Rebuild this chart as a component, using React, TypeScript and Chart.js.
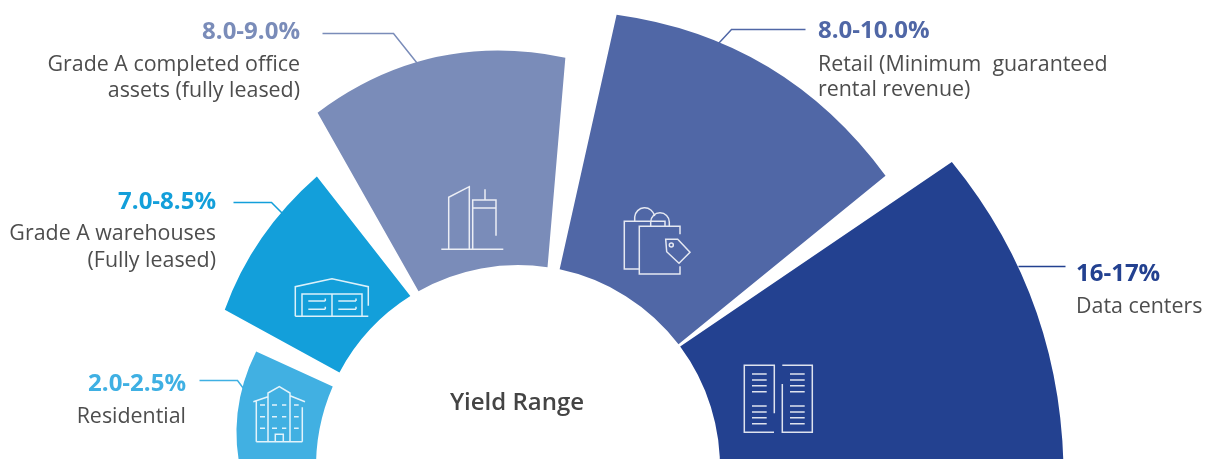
import React, { useEffect, useRef } from "react";
import { Chart, ArcElement, PolarAreaController, RadialLinearScale } from "chart.js";

// Property yield ranges, one wedge per asset class.
const categories = ["Residential", "Grade A warehouses", "Grade A completed office assets", "Retail", "Data centers"];
const yieldLow = [2.0, 7.0, 8.0, 8.0, 16];
const yieldHigh = [2.5, 8.5, 9.0, 10.0, 17];
const yieldLabels = ["2.0-2.5%", "7.0-8.5%", "8.0-9.0%", "8.0-10.0%", "16-17%"];
const yieldMidpoints = yieldLow.map((low, i) => (low + yieldHigh[i]) / 2);
const wedgeColors = ["#41b0e2", "#139fda", "#7a8cb9", "#5067a6", "#234190"];
const labelColors = ["#3fb0e3", "#139fda", "#7a8cb9", "#5067a6", "#234190"];

// Broken radial axis: yield stops and the share of the drawing area they reach.
const yieldStops = [2.25, 7.75, 8.5, 9, 16.5];
const ringStops = [0.408, 0.491, 0.597, 0.674, 0.773];
const holeShare = 0.2886;

// Sweep of each wedge in degrees, and where the sweep starts.
const firstAngle = -92;
const wedgeSweeps = [27.8, 33.2, 41, 43, 39];
// Corner insets in degrees: inner start, outer start, inner end, outer end.
const cornerInsets = [
  [0, 0, 2.3, 2.0],
  [2.1, 2.4, 1.2, 3.7],
  [1.5, 1.5, 1.6, 3.4],
  [1.9, 2.3, 0.4, 1.4],
  [0.4, 1.9, 0, 0],
];
// Outer corner radius relative to the radius at mid sweep: start, end.
const shoulderRatios = [
  [0.967, 1.002],
  [0.968, 1.028],
  [0.974, 0.986],
  [0.981, 0.994],
  [0.98, 1.009],
];

const rad = (deg: number) => (deg * Math.PI) / 180;

class YieldRadialScale extends RadialLinearScale {
  static id = "yieldRadial";
  getDistanceFromCenterForValue(value: number) {
    const last = yieldStops.length - 1;
    let share = ringStops[last];
    for (let i = 0; i < last; i++) {
      if (value <= yieldStops[i + 1]) {
        const t = (value - yieldStops[i]) / (yieldStops[i + 1] - yieldStops[i]);
        share = ringStops[i] + t * (ringStops[i + 1] - ringStops[i]);
        break;
      }
    }
    return share * (this as any).drawingArea;
  }
}

// Ring wedge with tapered gaps and a slightly off-centre outer edge.
class WedgeArc extends ArcElement {
  static id = "wedgeArc";
  draw(ctx: CanvasRenderingContext2D) {
    const self = this as any;
    const i = self.$context.index;
    const { x, y, startAngle, endAngle, outerRadius } = self;
    const hole = self.$context.chart.scales.r.drawingArea * holeShare;
    const [is, os, ie, oe] = cornerInsets[i];
    const [rs, re] = shoulderRatios[i];
    const a0 = startAngle + rad(is);
    const a1 = startAngle + rad(os);
    const a2 = endAngle - rad(oe);
    const a3 = endAngle - rad(ie);
    const am = (a1 + a2) / 2;
    const p1 = [x + outerRadius * rs * Math.cos(a1), y + outerRadius * rs * Math.sin(a1)];
    const p2 = [x + outerRadius * re * Math.cos(a2), y + outerRadius * re * Math.sin(a2)];
    const pm = [x + outerRadius * Math.cos(am), y + outerRadius * Math.sin(am)];
    ctx.save();
    ctx.fillStyle = self.options.backgroundColor;
    ctx.beginPath();
    ctx.moveTo(x + hole * Math.cos(a0), y + hole * Math.sin(a0));
    ctx.lineTo(p1[0], p1[1]);
    ctx.quadraticCurveTo(2 * pm[0] - (p1[0] + p2[0]) / 2, 2 * pm[1] - (p1[1] + p2[1]) / 2, p2[0], p2[1]);
    ctx.lineTo(x + hole * Math.cos(a3), y + hole * Math.sin(a3));
    ctx.arc(x, y, hole, a3, a0, true);
    ctx.closePath();
    ctx.fill();
    ctx.restore();
  }
}

Chart.register(PolarAreaController, RadialLinearScale, ArcElement, YieldRadialScale, WedgeArc);
(Chart.defaults as any).datasets.polarArea.dataElementType = "wedgeArc";

// The canvas is larger than the visible band so the full radial scale fits.
const canvasSize = 1400;
const canvasLeft = -182;
const canvasTop = -233;

type Caption = { lines: string[]; x: number; align: CanvasTextAlign; head: number; first: number; gap: number };
const captions: Caption[] = [
  { lines: ["Residential"], x: 186, align: "right", head: 391, first: 423, gap: 0 },
  { lines: ["Grade A warehouses", "(Fully leased)"], x: 216, align: "right", head: 209, first: 240, gap: 27 },
  { lines: ["Grade A completed office", "assets (fully leased)"], x: 300, align: "right", head: 39, first: 71, gap: 26 },
  { lines: ["Retail (Minimum  guaranteed", "rental revenue)"], x: 818, align: "left", head: 38, first: 71, gap: 25 },
  { lines: ["Data centers"], x: 1076, align: "left", head: 281, first: 313, gap: 0 },
];

const leaders: number[][][] = [
  [[199, 380], [237, 380], [243, 388]],
  [[233, 202], [271, 202], [282, 213]],
  [[322, 33], [393, 33], [416.5, 62.5]],
  [[805, 29], [731, 29], [718, 43]],
  [[1065, 266], [1018, 266]],
];

// Line-art pictograms, one per asset class.
const icons = [
  "M256.3 441.7V401 M253.3 401.7L268 396.7 M268 441.7V393L279.3 386.7L290 393V441.7 M290 395.7L305 401.7 M302.3 407.3V441.7 M256.3 441.7H302.3 M275.3 441.7V434.3H283.3V441.7 M260 405H265M272 405H277M282 405H286.3M294 405H298.7 M260 416.7H265M272 416.7H277M282 416.7H286.3M294 416.7H298.7 M260 428.3H265M272 428.3H277M282 428.3H286.3M294 428.3H298.7",
  "M295.3 316.3V286.7L332 278.7L368.3 286.7V305.7 M295.3 316.3H368.3 M302 316.3V294H362V316.3 M332 294V316.3 M308.3 301H325.3M308.3 309.3H325.3M338.3 301H356M338.3 309.3H356 M325.3 298.5V301M325.3 306.8V309.3M356 298.5V301M356 306.8V309.3",
  "M441.3 249.3H503.3 M448.7 249.3V197.3L469.3 186.7V249.3 M472.7 249.3V200H496V235.7 M472.7 208H496 M485 189.3V200",
  "M639.3 269H624.3V221.3H665V226.3 M680 234.3V226.3H639.3V274H680V266.3 M634.7 221.3V217A10 10 0 0 1 654.5 216V213.5 M650.7 226.3V222A9.3 9.3 0 0 1 669.3 222V226.3 M665.7 239.3H677.7L690 252.3L679 263.3L666.7 251.7Z M673.3 245A2 2 0 1 1 669.3 245A2 2 0 1 1 673.3 245",
  "M774.3 413.3V365.3H744.3V432.3H774 M782.3 365.3H812.3V432.3H782.3V384 M752 374H766.7M752 380H766.7M752 385.7H766.7M752 391.7H766.7M752 406H766.7M752 412H766.7M752 417.7H766.7M752 423.7H766.7 M790 374H804.7M790 380H804.7M790 385.7H804.7M790 391.7H804.7M790 406H804.7M790 412H804.7M790 417.7H804.7M790 423.7H804.7",
];

const FONT = '"Open Sans", sans-serif';

const annotations = {
  id: "annotations",
  afterDatasetsDraw(chart: any) {
    const ctx: CanvasRenderingContext2D = chart.ctx;
    ctx.save();
    ctx.translate(-canvasLeft, -canvasTop);

    ctx.lineWidth = 1.5;
    leaders.forEach((points, i) => {
      ctx.strokeStyle = labelColors[i];
      ctx.beginPath();
      points.forEach(([px, py], k) => (k ? ctx.lineTo(px + 0.5, py + 0.5) : ctx.moveTo(px + 0.5, py + 0.5)));
      ctx.stroke();
    });

    ctx.strokeStyle = "rgba(255,255,255,0.85)";
    ctx.lineWidth = 1.5;
    icons.forEach((d) => ctx.stroke(new Path2D(d)));

    ctx.textBaseline = "alphabetic";
    captions.forEach((c, i) => {
      ctx.textAlign = c.align;
      ctx.fillStyle = labelColors[i];
      ctx.font = `700 24px ${FONT}`;
      ctx.fillText(yieldLabels[i], c.x, c.head);
      ctx.fillStyle = "#4d4d4d";
      ctx.font = `400 21.4px ${FONT}`;
      c.lines.forEach((line, k) => ctx.fillText(line, c.x, c.first + k * c.gap));
    });

    ctx.textAlign = "center";
    ctx.fillStyle = "#444444";
    ctx.font = `600 24px ${FONT}`;
    ctx.fillText("Yield Range", 517, 410);
    ctx.restore();
  },
};

export default function App() {
  const ref = useRef<HTMLCanvasElement>(null);
  useEffect(() => {
    const chart = new Chart(ref.current!, {
      type: "polarArea",
      data: {
        labels: categories,
        datasets: [
          {
            data: yieldMidpoints,
            backgroundColor: wedgeColors,
            borderWidth: 0,
            angle: (c: any) => wedgeSweeps[c.dataIndex],
          } as any,
        ],
      },
      options: {
        responsive: false,
        animation: false,
        events: [],
        layout: { padding: 0 },
        plugins: { legend: { display: false }, tooltip: { enabled: false } },
        scales: {
          r: {
            type: "yieldRadial",
            display: false,
            startAngle: firstAngle,
            min: 0,
            max: 17,
          } as any,
        },
      },
      plugins: [annotations],
    });
    return () => chart.destroy();
  }, []);
  return (
    <div style={{ position: "absolute", left: 0, top: 0, width: 1209, height: 459, overflow: "hidden", background: "#fff" }}>
      <canvas
        ref={ref}
        width={canvasSize}
        height={canvasSize}
        style={{ position: "absolute", left: canvasLeft, top: canvasTop }}
      />
    </div>
  );
}
